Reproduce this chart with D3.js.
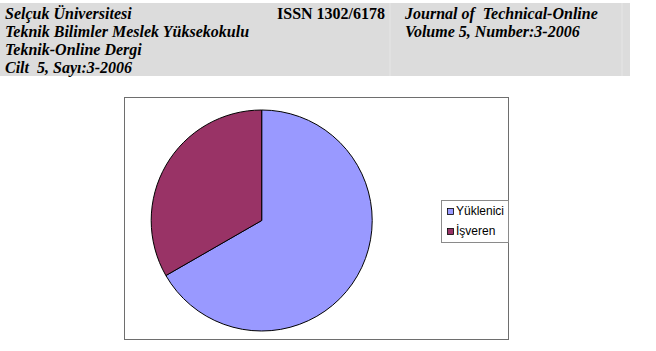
<!DOCTYPE html>
<html>
<head>
<meta charset="utf-8">
<script src="https://cdn.jsdelivr.net/npm/d3@7"></script>
<style>
  body { margin: 0; background: #fff; }
  svg { display: block; }
  text { white-space: pre; }
</style>
</head>
<body>
<div id="chart"></div>
<script>
// header lines of the journal page
const headerLeft = ["Selçuk Üniversitesi", "Teknik Bilimler Meslek Yüksekokulu", "Teknik-Online Dergi", "Cilt  5, Sayı:3-2006"];
const headerMid = ["ISSN 1302/6178"];
const headerRight = ["Journal of  Technical-Online", "Volume 5, Number:3-2006"];

// pie data
const categories = ["Yüklenici", "İşveren"];
const values = [66.7, 33.3];
const sliceColors = ["#9999ff", "#993366"];

const width = 656, height = 351;

const svg = d3.select("#chart").append("svg")
    .attr("width", width)
    .attr("height", height);

svg.append("rect").attr("width", width).attr("height", height).attr("fill", "#fff");

// header band
const header = svg.append("g");
header.append("rect")
    .attr("x", 0).attr("y", 3)
    .attr("width", 630).attr("height", 73)
    .attr("fill", "#dcdcdc");
header.selectAll("line.sep")
    .data([390, 622])
    .join("line")
    .attr("class", "sep")
    .attr("x1", d => d).attr("x2", d => d)
    .attr("y1", 3).attr("y2", 76)
    .attr("stroke", "#e6e6e6");

const lineY = i => 19 + i * 18;
const headFont = "'Liberation Serif', 'Times New Roman', serif";

header.selectAll("text.left")
    .data(headerLeft)
    .join("text")
    .attr("class", "left")
    .attr("x", 5)
    .attr("y", (d, i) => lineY(i))
    .attr("font-family", headFont)
    .attr("font-size", 16)
    .attr("font-weight", "bold")
    .attr("font-style", "italic")
    .text(d => d);

header.selectAll("text.mid")
    .data(headerMid)
    .join("text")
    .attr("class", "mid")
    .attr("x", 277)
    .attr("y", (d, i) => lineY(i))
    .attr("font-family", headFont)
    .attr("font-size", 16)
    .attr("font-weight", "bold")
    .text(d => d);

header.selectAll("text.right")
    .data(headerRight)
    .join("text")
    .attr("class", "right")
    .attr("x", 405)
    .attr("y", (d, i) => lineY(i))
    .attr("font-family", headFont)
    .attr("font-size", 16)
    .attr("font-weight", "bold")
    .attr("font-style", "italic")
    .text(d => d);

// chart frame
const frame = { x: 124, y: 97, w: 384, h: 242 };
svg.append("rect")
    .attr("x", frame.x + 0.5).attr("y", frame.y + 0.5)
    .attr("width", frame.w).attr("height", frame.h)
    .attr("fill", "#fff")
    .attr("stroke", "#6e6e6e");

// pie
const cx = 261.7, cy = 220.5, radius = 110.5;
const color = d3.scaleOrdinal().domain(categories).range(sliceColors);

const pie = d3.pie().sort(null).value(d => d.value);
const arc = d3.arc().innerRadius(0).outerRadius(radius);

const pieData = pie(categories.map((c, i) => ({ name: c, value: values[i] })));

svg.append("g")
    .attr("transform", `translate(${cx},${cy})`)
    .selectAll("path")
    .data(pieData)
    .join("path")
    .attr("d", arc)
    .attr("fill", d => color(d.data.name))
    .attr("stroke", "#000")
    .attr("stroke-width", 1)
    .attr("stroke-linejoin", "round");

// legend
const legend = { x: 441, y: 200, w: 67, h: 42 };
svg.append("rect")
    .attr("x", legend.x + 0.5).attr("y", legend.y + 0.5)
    .attr("width", legend.w).attr("height", legend.h)
    .attr("fill", "#fff")
    .attr("stroke", "#8a8a8a");

const legendItem = svg.selectAll("g.legend-item")
    .data(categories)
    .join("g")
    .attr("class", "legend-item")
    .attr("transform", (d, i) => `translate(${legend.x + 6}, ${legend.y + 8 + i * 20})`);

legendItem.append("rect")
    .attr("x", 0.5).attr("y", 0.5)
    .attr("width", 6).attr("height", 6)
    .attr("fill", d => color(d))
    .attr("stroke", "#000")
    .attr("stroke-width", 0.8);

legendItem.append("text")
    .attr("x", 9)
    .attr("y", 7)
    .attr("font-family", "'Liberation Sans', Arial, sans-serif")
    .attr("font-size", 12)
    .attr("fill", "#000")
    .text(d => d);
</script>
</body>
</html>
